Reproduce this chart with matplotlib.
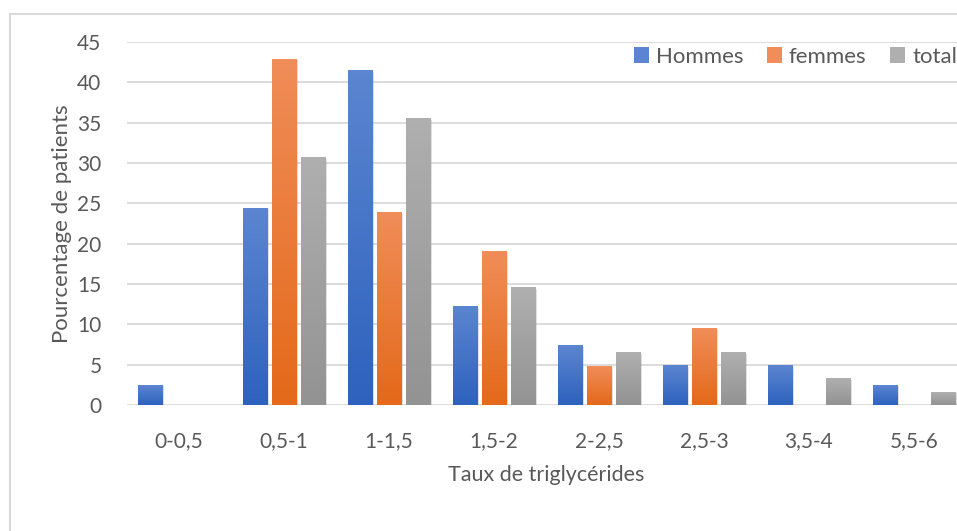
import matplotlib.pyplot as plt
import numpy as np
from matplotlib import patheffects
from matplotlib.colors import LinearSegmentedColormap
from matplotlib.patches import Patch, Rectangle

plt.rcParams["font.family"] = ["Lato", "DejaVu Sans"]

categories = ["0-0,5", "0,5-1", "1-1,5", "1,5-2", "2-2,5", "2,5-3", "3,5-4", "5,5-6"]
hommes = [2.44, 24.39, 41.46, 12.2, 7.32, 4.88, 4.88, 2.44]
femmes = [0, 42.86, 23.81, 19.05, 4.76, 9.52, 0, 0]
total = [0, 30.65, 35.48, 14.52, 6.45, 6.45, 3.23, 1.61]

series = [
    ("Hommes", hommes, "#5B85D0", "#2E62BE"),
    ("femmes", femmes, "#F08D58", "#E4691A"),
    ("total", total, "#AFAFAF", "#939393"),
]

TEXT = "#595959"
GRID = "#D9D9D9"

W, H = 957, 531
fig = plt.figure(figsize=(W / 100, H / 100), dpi=100)
ax = fig.add_axes([126.5 / W, (H - 405) / H, 840 / W, 363 / H])

x = np.arange(len(categories))
width = 25 / 105
step = 29 / 105

grad = np.linspace(0, 1, 64).reshape(-1, 1)
handles = []
for i, (name, vals, top, bottom) in enumerate(series):
    cmap = LinearSegmentedColormap.from_list(name, [bottom, top])
    bars = ax.bar(x + (i - 1) * step, vals, width, color=bottom, zorder=2)
    for b in bars:
        h = b.get_height()
        if h <= 0:
            b.set_visible(False)
            continue
        # soft drop shadow + vertical gradient like the Excel bars
        b.set_path_effects([patheffects.SimplePatchShadow(offset=(0.8, -0.8), shadow_rgbFace="#9a9a9a", alpha=0.3)])
        ax.imshow(grad, extent=[b.get_x(), b.get_x() + b.get_width(), 0, h],
                  origin="lower", cmap=cmap, aspect="auto", zorder=3)
    handles.append(Patch(facecolor=top, label=name))

ax.set_xlim(-0.5, len(categories) - 0.5)
ax.set_ylim(0, 45)
ax.set_yticks(range(0, 46, 5))
ax.set_xticks(x)
ax.set_xticklabels(categories)
ax.yaxis.grid(True, color=GRID, lw=1.3, zorder=0)
ax.set_axisbelow(True)
for s in ax.spines.values():
    s.set_visible(False)
ax.tick_params(length=0, labelsize=15, colors=TEXT)
ax.tick_params(axis="y", pad=18)
ax.tick_params(axis="x", pad=19)

ax.set_ylabel("Pourcentage de patients", fontsize=16, color=TEXT, labelpad=4)
ax.set_xlabel("Taux de triglycérides", fontsize=15.5, color=TEXT, labelpad=10)

ax.legend(handles=handles, loc="center right", bbox_to_anchor=(957 / W, (H - 57) / H),
          bbox_transform=fig.transFigure, ncol=3, frameon=False, fontsize=16,
          labelcolor=TEXT, handlelength=0.7, handleheight=0.7, handletextpad=0.3,
          columnspacing=1.05, borderaxespad=0, borderpad=0)

fig.add_artist(Rectangle((10 / W, -0.1), 1.2, 1.1 - 14 / H, transform=fig.transFigure,
                         fill=False, edgecolor=GRID, lw=1.5))

fig.savefig("out.png", dpi=100)
